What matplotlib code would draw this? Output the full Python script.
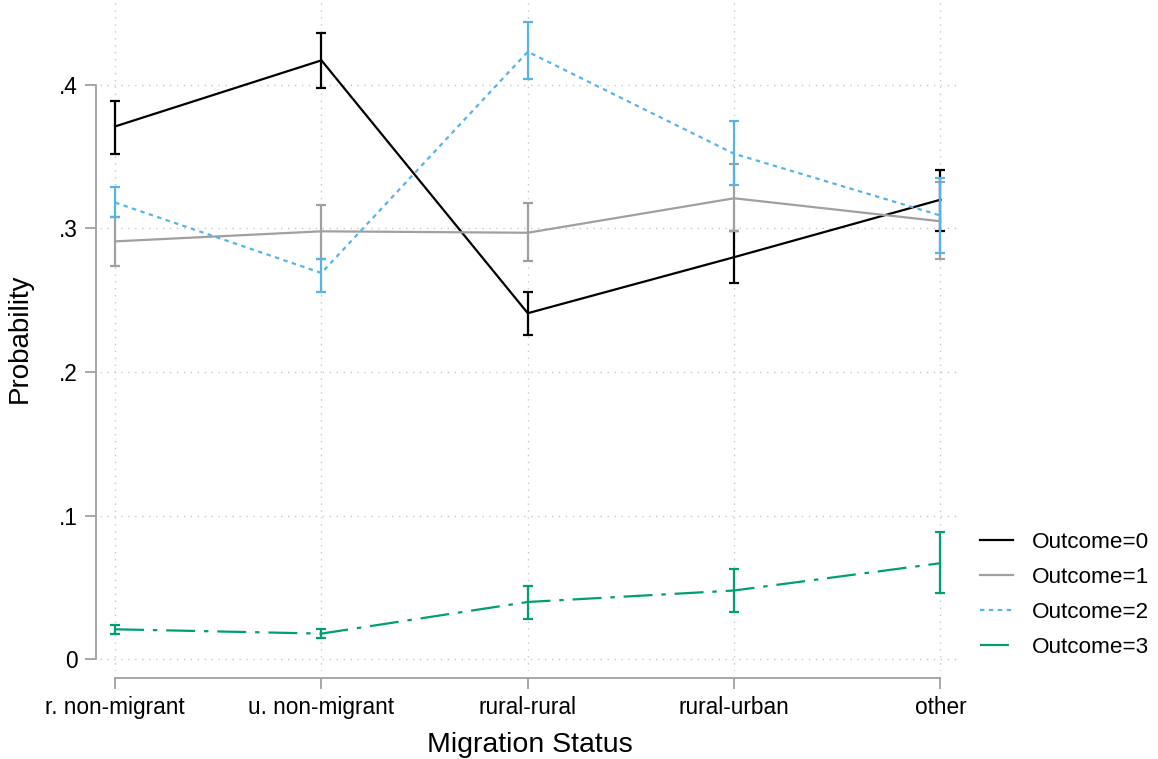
import numpy as np
import matplotlib.pyplot as plt

plt.rcParams['font.family'] = ['Liberation Sans', 'DejaVu Sans']

categories = ["r. non-migrant", "u. non-migrant", "rural-rural", "rural-urban", "other"]
labels = ["Outcome=0", "Outcome=1", "Outcome=2", "Outcome=3"]

# predicted probabilities and 95% CI bounds, per outcome
p0 = [0.371, 0.417, 0.241, 0.280, 0.320]
lo0 = [0.352, 0.398, 0.226, 0.262, 0.298]
hi0 = [0.389, 0.436, 0.256, 0.298, 0.341]

p1 = [0.291, 0.298, 0.297, 0.321, 0.305]
lo1 = [0.274, 0.279, 0.277, 0.298, 0.279]
hi1 = [0.308, 0.316, 0.318, 0.345, 0.332]

p2 = [0.318, 0.269, 0.423, 0.352, 0.309]
lo2 = [0.308, 0.256, 0.404, 0.330, 0.283]
hi2 = [0.329, 0.279, 0.444, 0.375, 0.335]

p3 = [0.021, 0.018, 0.040, 0.048, 0.067]
lo3 = [0.018, 0.015, 0.028, 0.033, 0.046]
hi3 = [0.024, 0.021, 0.051, 0.063, 0.089]

yticks = [0, 0.1, 0.2, 0.3, 0.4]
yticklabels = ["0", ".1", ".2", ".3", ".4"]

colors = ["black", "#A0A0A0", "#56B4E9", "#009E73"]
styles = ["-", "-", (0, (2, 2)), (0, (13, 4, 2, 4))]

fig = plt.figure(figsize=(11.58, 7.59), dpi=100)
ax = fig.add_axes([0.0864, 0.116, 0.743, 0.884])

x = np.arange(len(categories))
series = [(p0, lo0, hi0), (p1, lo1, hi1), (p2, lo2, hi2), (p3, lo3, hi3)]
for (p, lo, hi), c, ls, lab in zip(series, colors, styles, labels):
    p = np.array(p)
    err = [p - np.array(lo), np.array(hi) - p]
    ax.errorbar(x, p, yerr=err, fmt='none', ecolor=c, elinewidth=1.6,
                capsize=3.5, capthick=1.6)
    ax.plot(x, p, color=c, linestyle=ls, lw=1.6, label=lab)

ax.set_xlim(-0.073, 4.097)
ax.set_ylim(-0.008, 0.459)
ax.set_xticks(x)
ax.set_xticklabels(categories)
ax.set_yticks(yticks)
ax.set_yticklabels(yticklabels)

ax.grid(True, color="#C8C8C8", linestyle=(0, (1, 4)), lw=1.0)
ax.set_axisbelow(True)

for s in ["top", "right"]:
    ax.spines[s].set_visible(False)
ax.spines["left"].set_position(("outward", 3))
ax.spines["bottom"].set_position(("outward", 5))
ax.spines["left"].set_bounds(0, 0.4)
ax.spines["bottom"].set_bounds(0, 4)
for s in ["left", "bottom"]:
    ax.spines[s].set_color("#A0A0A0")
    ax.spines[s].set_linewidth(1.3)
ax.tick_params(axis="both", colors="#A0A0A0", length=8, width=1.3,
               labelcolor="black", labelsize=16.3)
ax.tick_params(axis="x", pad=5)
ax.tick_params(axis="y", pad=5)

ax.set_xlabel("Migration Status", fontsize=20.5, va="center")
ax.set_ylabel("Probability", fontsize=20, va="center")
ax.xaxis.set_label_coords(0.5, -0.110)
ax.yaxis.set_label_coords(-0.093, 0.496)

fig.legend(loc="center left", bbox_to_anchor=(0.846, 0.216), frameon=False,
           fontsize=16.2, handlelength=1.5, handletextpad=0.8, labelspacing=0.62,
           borderpad=0, borderaxespad=0)

fig.savefig("out.png", dpi=100)
